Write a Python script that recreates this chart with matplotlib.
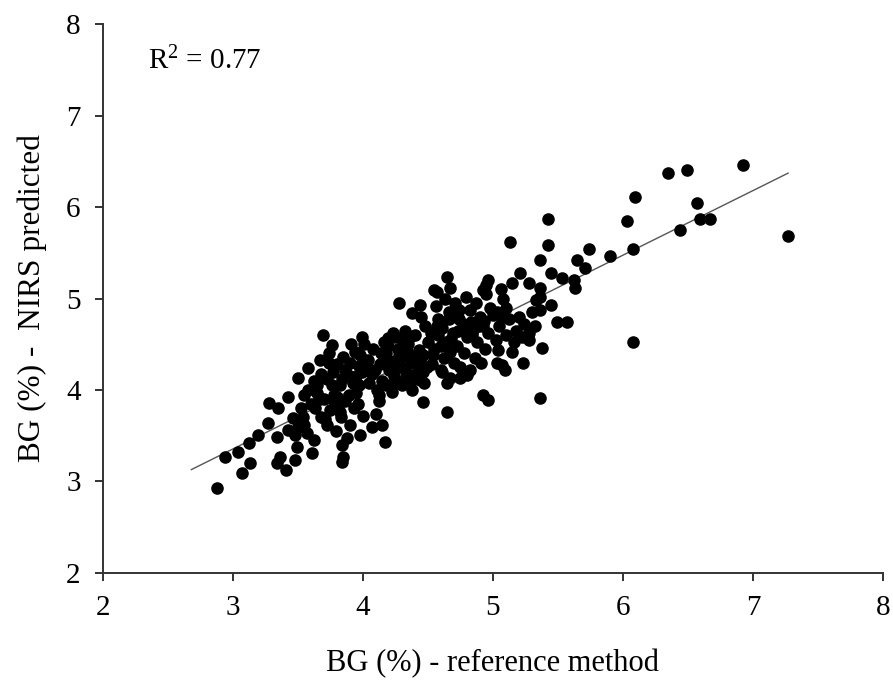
import matplotlib
matplotlib.use('Agg')
import matplotlib.pyplot as plt
import numpy as np

plt.rcParams['font.family'] = ['Liberation Serif', 'DejaVu Serif']
plt.rcParams['mathtext.fontset'] = 'custom'
plt.rcParams['mathtext.rm'] = 'Liberation Serif'
plt.rcParams['mathtext.it'] = 'Liberation Serif'

# BG (%) reference vs NIRS predicted
ref_x = [
	2.88, 3.07, 3.13, 2.94, 3.04, 3.12, 3.19, 3.27, 3.28, 3.35, 3.42, 3.55, 3.50, 3.58,
	3.67, 3.69, 3.76, 3.99, 3.34, 3.41, 3.36, 3.48, 3.61, 3.49, 3.48, 3.57, 3.34, 3.42,
	3.46, 3.54, 3.63, 3.65, 3.65, 3.84, 3.84, 3.98, 4.07, 4.15, 4.17, 3.85, 4.19,
	4.65, 4.28, 4.44, 4.38, 4.57, 4.67, 4.96, 4.92, 5.21, 5.15, 5.28, 5.45, 5.53, 5.36,
	5.45, 5.49, 5.57, 5.28, 5.38, 5.04, 5.15, 5.07, 5.23, 5.36, 4.92, 4.96, 4.46, 4.65,
	4.80, 4.75, 4.67, 4.61,
	6.92, 6.35, 6.49, 6.09, 6.57, 6.03, 6.59, 6.67, 6.44, 7.27, 5.42, 5.42, 5.74, 6.08,
	5.90, 5.65, 5.71, 5.62, 5.63, 5.36, 6.08, 5.36, 5.36,
	5.13, 4.95, 4.55, 5.09, 5.03, 4.65, 4.44, 4.82,
	# dense part
	3.72, 3.75, 3.78, 3.72, 3.80, 3.74, 3.83, 3.86, 3.82, 3.88, 3.85, 3.91, 3.90, 3.93,
	3.95, 3.92, 3.97, 3.94, 4.00, 4.10, 4.05, 3.99, 4.04, 4.08, 3.79, 3.88, 3.96, 3.70,
	3.77, 3.84, 3.89, 4.12, 4.09, 4.01, 3.81, 3.97,
	4.12, 4.15, 4.13, 4.18, 4.16, 4.22, 4.24, 4.21, 4.27, 4.25, 4.30, 4.33, 4.29, 4.35,
	4.32, 4.38, 4.41, 4.37, 4.43, 4.40, 4.47, 4.49, 4.46, 4.50, 4.48, 4.20, 4.27, 4.35,
	4.44, 4.18, 4.26, 4.39, 4.14, 4.31, 4.45, 4.23,
	4.53, 4.55, 4.52, 4.58, 4.56, 4.62, 4.64, 4.61, 4.66, 4.63, 4.70, 4.72, 4.69, 4.74,
	4.71, 4.78, 4.80, 4.77, 4.82, 4.79, 4.86, 4.88, 4.85, 4.90, 4.87, 4.94, 4.96, 4.93,
	4.98, 4.95, 4.60, 4.75, 4.67, 4.91, 4.58, 4.83, 4.73,
	5.02, 5.05, 5.03, 5.08, 5.10, 5.12, 5.10, 5.18, 5.20, 5.24, 5.28, 5.30, 5.33, 5.32,
	5.06, 5.16, 5.22,
	3.55, 3.60, 3.62, 3.52, 3.68, 3.58,
	3.66, 3.71, 3.76, 3.80, 3.86, 3.92, 3.98, 3.74, 3.82, 3.90, 3.68, 3.78, 3.95, 4.03,
	4.07, 4.11, 4.17, 4.23, 4.29, 4.34, 4.40, 4.46, 4.19, 4.28, 4.36, 4.43,
	4.54, 4.60, 4.68, 4.76, 4.84, 4.92, 5.00, 4.57, 4.66, 4.74, 4.89, 5.07, 3.62, 3.50,
]
nirs_y = [
	2.93, 3.09, 3.20, 3.27, 3.32, 3.42, 3.51, 3.64, 3.86, 3.80, 3.92, 3.95, 4.13, 4.24,
	4.33, 4.60, 4.49, 4.58, 3.20, 3.13, 3.27, 3.23, 3.31, 3.38, 3.51, 3.53, 3.49, 3.56,
	3.69, 3.71, 3.80, 3.97, 4.05, 3.40, 3.21, 3.51, 3.60, 3.62, 3.43, 3.27, 4.57,
	5.24, 4.95, 4.93, 4.84, 5.07, 5.11, 5.20, 5.09, 5.28, 5.17, 5.17, 5.28, 5.22, 5.42,
	4.93, 4.74, 4.74, 4.55, 4.46, 4.44, 4.42, 4.27, 4.30, 3.91, 3.95, 3.89, 3.87, 3.76,
	4.16, 4.13, 4.13, 4.20,
	6.46, 6.37, 6.40, 6.11, 6.04, 5.85, 5.87, 5.87, 5.75, 5.68, 5.87, 5.58, 5.54, 5.54,
	5.46, 5.42, 5.33, 5.20, 5.11, 5.11, 4.52, 5.02, 4.87,
	5.62, 5.15, 5.09, 4.22, 4.30, 4.08, 4.11, 4.22,
	3.62, 3.78, 3.95, 4.12, 4.28, 4.40, 3.70, 3.88, 4.05, 4.18, 4.36, 4.50, 3.62, 3.80,
	3.97, 4.12, 4.26, 4.42, 3.72, 3.74, 4.08, 4.20, 4.33, 4.45, 3.55, 3.48, 3.85, 3.90,
	4.20, 4.12, 3.95, 3.88, 4.22, 4.50, 3.82, 4.05,
	3.95, 4.10, 4.28, 4.40, 4.52, 3.98, 4.15, 4.32, 4.45, 4.58, 4.05, 4.20, 4.36, 4.50,
	4.65, 4.00, 4.18, 4.30, 4.44, 4.60, 4.08, 4.25, 4.38, 4.52, 4.70, 4.22, 4.10, 4.40,
	4.32, 4.05, 4.26, 4.12, 4.40, 4.54, 4.80, 4.62,
	4.28, 4.45, 4.62, 4.78, 4.92, 4.35, 4.52, 4.68, 4.85, 5.00, 4.30, 4.48, 4.62, 4.78,
	4.95, 4.40, 4.58, 4.72, 4.88, 5.02, 4.35, 4.52, 4.66, 4.80, 4.95, 4.45, 4.62, 4.75,
	4.90, 5.05, 4.22, 4.25, 4.42, 4.30, 4.60, 4.74, 4.65,
	4.55, 4.70, 4.85, 5.00, 4.60, 4.78, 4.90, 4.65, 4.80, 4.72, 4.62, 4.85, 4.98, 4.70,
	5.10, 4.52, 4.58,
	3.62, 3.85, 4.10, 3.80, 3.70, 4.00,
	3.90, 3.68, 4.05, 3.92, 4.22, 4.08, 4.38, 4.30, 3.76, 4.30, 4.18, 3.88, 4.15, 4.25,
	4.18, 4.00, 4.30, 4.08, 4.25, 4.12, 4.36, 4.20, 4.48, 4.38, 4.58, 4.28,
	4.38, 4.48, 4.56, 4.66, 4.60, 4.70, 4.82, 4.70, 4.78, 4.88, 4.70, 4.80, 3.45, 3.60,
]

# fitted line: slope, intercept and the x span it was drawn over
fit_coef = [0.706, 1.238]
fit_x = [2.68, 7.27]
r_squared = 0.77


def main():
	fig = plt.figure(figsize=(8.93, 6.88), dpi=100)
	ax = fig.add_axes([0.1153, 0.1672, 0.8735, 0.7978])

	ax.scatter(ref_x, nirs_y, s=82, c='black', linewidths=0, zorder=3)
	lx = np.array(fit_x)
	ax.plot(lx, np.polyval(fit_coef, lx), color='#555555', lw=1.0, zorder=2)

	ax.set_xlim(2, 8)
	ax.set_ylim(2, 8)
	ax.set_xticks(range(2, 9))
	ax.set_yticks(range(2, 9))
	for side in ('top', 'right'):
		ax.spines[side].set_visible(False)
	for side in ('left', 'bottom'):
		ax.spines[side].set_linewidth(1.4)
		ax.spines[side].set_color('#333333')
	ax.tick_params(direction='out', length=6, width=1.4, color='#333333',
		labelsize=21, pad=10)

	ax.set_xlabel('BG (%) - reference method', fontsize=22, labelpad=20)
	ax.set_ylabel('BG (%) -  NIRS predicted', fontsize=22.5, labelpad=14)
	ax.text(2.35, 7.6, 'R$^{2}$ = ' + f'{r_squared:.2f}', fontsize=21,
		ha='left', va='center')

	fig.savefig('out.png', dpi=100)


if __name__ == '__main__':
	main()
